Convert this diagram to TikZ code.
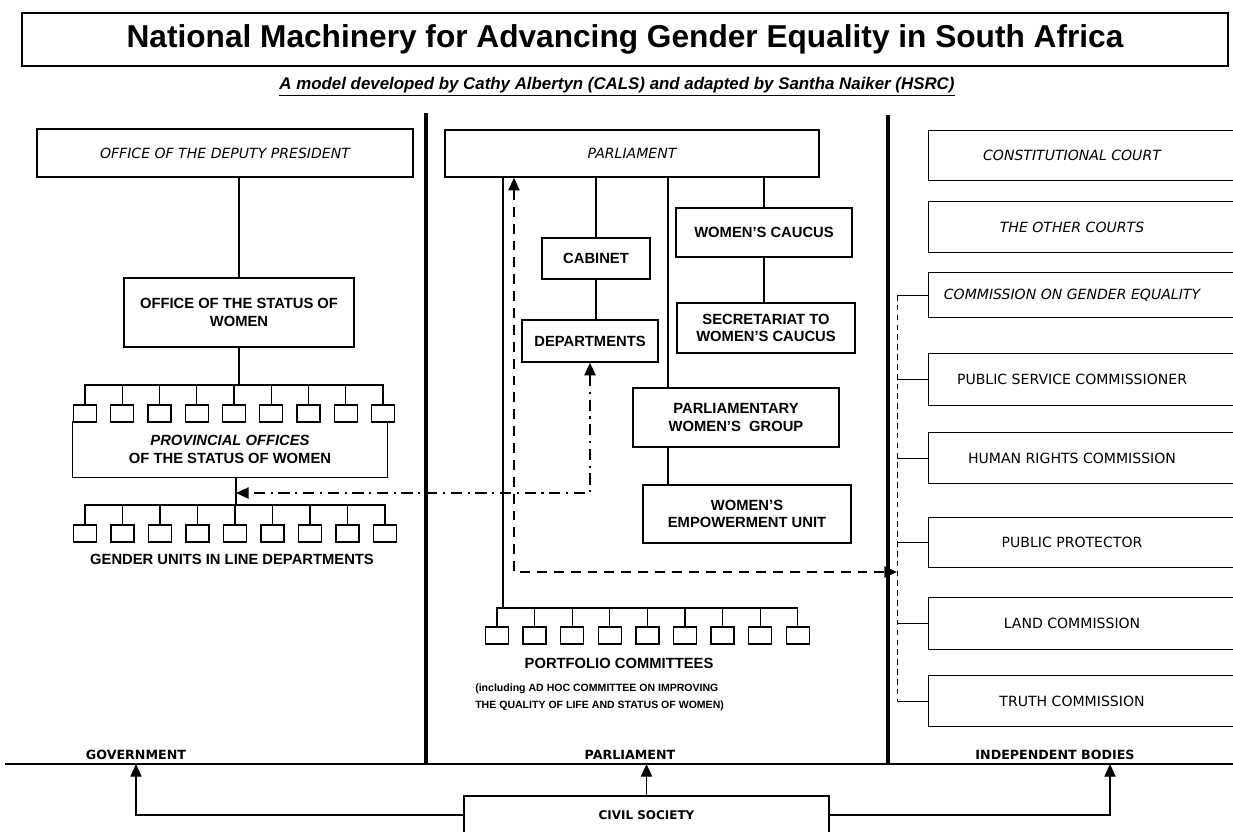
\documentclass[tikz,border=0pt]{standalone}
\usepackage{fontspec}
\setmainfont{Liberation Sans}
\newfontfamily\tahoma{DejaVu Sans}
\usepackage{tikz}
\usetikzlibrary{positioning, arrows.meta}
\tikzset{
  orgbox/.style={
    rectangle, draw=black, line width=1pt,
    inner sep=2pt, align=center,
    font=\fontsize{10.5}{12.5}\selectfont\bfseries
  },
  tbox/.style={orgbox, font=\tahoma\fontsize{10}{12}\selectfont},
  tibox/.style={orgbox, font=\tahoma\itshape\fontsize{10}{12}\selectfont},
  ibody/.style={tbox, draw=none, minimum width=7.15cm},
  unitbox/.style={
    rectangle, draw=black, line width=1pt,
    minimum width=0.575cm, minimum height=0.425cm, inner sep=0pt
  },
  link/.style={black, line width=0.9pt},
  thinlink/.style={black, line width=0.6pt},
  divider/.style={black, line width=2.6pt},
  tip/.style={-{Triangle[length=9pt, width=8pt]}},
  dasharrow/.style={
    {Triangle[length=9pt, width=8pt]}-{Triangle[length=9pt, width=8pt]},
    black, line width=1.1pt, dash pattern=on 7pt off 5pt
  },
  dotarrow/.style={
    {Triangle[length=9pt, width=8pt]}-{Triangle[length=9pt, width=8pt]},
    black, line width=1.1pt, dash pattern=on 8pt off 4pt on 1.5pt off 4pt
  },
  feed/.style={black, line width=0.6pt, dash pattern=on 4pt off 3pt},
  footlabel/.style={font=\tahoma\bfseries\fontsize{9}{10}\selectfont, inner sep=1pt}
}

\begin{document}
\begin{tikzpicture}[x=0.025cm, y=-0.025cm]
  \useasboundingbox (0,0) rectangle (1233,831);
  \clip (0,0) rectangle (1233,831);

  \node[draw, line width=1pt, minimum width=30.15cm, minimum height=1.325cm, font=\fontsize{22.5}{26}\selectfont\bfseries] (title) at (625,39.5) {National Machinery for Advancing Gender Equality in South Africa\hspace{0.5cm}};
  \node[font=\fontsize{12}{14}\selectfont\bfseries\itshape] (subtitle) at (617,87) {\underline{A model developed by Cathy Albertyn (CALS) and adapted by Santha Naiker (HSRC)}};

  % government
  \node[tibox, minimum width=9.4cm, minimum height=1.2cm] (deputy) at (225,153) {OFFICE OF THE DEPUTY PRESIDENT};
  \node[orgbox, minimum width=5.75cm, minimum height=1.725cm] (osw) at (239,312.5) {OFFICE OF THE STATUS OF\\WOMEN};
  \node[orgbox, draw=none, minimum width=7.85cm, minimum height=1.375cm] (poffice) at (230,449.5) {\textit{PROVINCIAL OFFICES}\\OF THE STATUS OF WOMEN};
  \draw[link] (poffice.north west) |- (poffice.south east) -- (poffice.north east);
  \draw[link] (osw.north) -- (osw.north |- deputy.south);

  \coordinate (pbus) at (239,385);
  \draw[link] (osw.south) -- (pbus);
  \foreach \i in {0,...,8} {
    \node[unitbox] (pu\i) at (85+37.25*\i,413.5) {};
    \draw[link] (pu\i.north) -- (pu\i.north |- pbus) -- (pbus);
  }

  \coordinate (gbus) at (236,505);
  \coordinate (govlink) at (236,493);
  \draw[link] (gbus |- poffice.south) -- (gbus);
  \foreach \i in {0,...,8} {
    \node[unitbox] (gu\i) at (85+37.5*\i,533.5) {};
    \draw[link] (gu\i.north) -- (gu\i.north |- gbus) -- (gbus);
  }
  \node[font=\fontsize{10.5}{12}\selectfont\bfseries] (gulabel) at (232,559) {GENDER UNITS IN LINE DEPARTMENTS};

  % parliament
  \node[tibox, minimum width=9.35cm, minimum height=1.175cm] (parl) at (632,153.5) {PARLIAMENT};
  \node[orgbox, minimum width=2.7cm, minimum height=1.025cm] (cabinet) at (596,258.5) {CABINET};
  \node[orgbox, minimum width=3.4cm, minimum height=1.05cm] (depts) at (590,341) {DEPARTMENTS};
  \node[orgbox, minimum width=4.4cm, minimum height=1.225cm] (caucus) at (764,232.5) {WOMEN'S CAUCUS};
  \node[orgbox, minimum width=4.45cm, minimum height=1.25cm] (secr) at (766,328) {SECRETARIAT TO\\WOMEN'S CAUCUS};
  \node[orgbox, minimum width=5.15cm, minimum height=1.475cm] (pwg) at (736,417.5) {PARLIAMENTARY\\WOMEN'S\ \ GROUP};
  \node[orgbox, minimum width=5.2cm, minimum height=1.45cm] (weu) at (747,514) {WOMEN'S\\EMPOWERMENT UNIT};

  \draw[link] (cabinet.north) -- (cabinet.north |- parl.south);
  \draw[link] (cabinet.south) -- (cabinet.south |- depts.north);
  \draw[link] (caucus.north) -- (caucus.north |- parl.south);
  \draw[link] (caucus.south) -- (caucus.south |- secr.north);
  \coordinate (pwgtap) at (668,388);
  \draw[link] (pwgtap) -- (pwgtap |- parl.south);
  \draw[link] (pwgtap |- pwg.south) -- (pwgtap |- weu.north);

  \coordinate (cbus) at (503,608);
  \draw[link] (cbus |- parl.south) -- (cbus);
  \foreach \i in {0,...,8} {
    \node[unitbox] (pc\i) at (497+37.6*\i,635.5) {};
    \draw[link] (pc\i.north) -- (pc\i.north |- cbus) -- (cbus);
  }
  \node[font=\fontsize{10.5}{12}\selectfont\bfseries] (pclabel) at (619,663) {PORTFOLIO COMMITTEES};
  \node[anchor=west, align=left, inner sep=0pt, font=\fontsize{7.5}{12}\selectfont\bfseries] (adhoc) at (475,697.5) {(including AD HOC COMMITTEE ON IMPROVING\\THE QUALITY OF LIFE AND STATUS OF WOMEN)};

  % independent bodies
  \node[ibody, font=\tahoma\itshape\fontsize{10}{12}\selectfont, minimum height=1.225cm] (cc) at (1072,155.5) {CONSTITUTIONAL COURT};
  \node[ibody, font=\tahoma\itshape\fontsize{10}{12}\selectfont, minimum height=1.25cm] (oc) at (1072,227) {THE OTHER COURTS};
  \node[ibody, font=\tahoma\itshape\fontsize{10}{12}\selectfont, minimum height=1.1cm] (cge) at (1072,295) {COMMISSION ON GENDER EQUALITY};
  \node[ibody, minimum height=1.275cm] (psc) at (1072,379.5) {PUBLIC SERVICE COMMISSIONER};
  \node[ibody, minimum height=1.25cm] (hrc) at (1072,458) {HUMAN RIGHTS COMMISSION};
  \node[ibody, minimum height=1.225cm] (pp) at (1072,542.5) {PUBLIC PROTECTOR};
  \node[ibody, minimum height=1.275cm] (lc) at (1072,623.5) {LAND COMMISSION};
  \node[ibody, minimum height=1.25cm] (tc) at (1072,701) {TRUTH COMMISSION};
  \foreach \b in {cc,oc,cge,psc,hrc,pp,lc,tc}
    \draw[link] (\b.north west) rectangle ([xshift=1cm]\b.south east);

  \coordinate (ibtap) at (897,572);
  \draw[feed] (cge.west -| ibtap) -- (tc.west -| ibtap);
  \foreach \b in {cge,psc,hrc,pp,lc,tc}
    \draw[thinlink] (\b.west -| ibtap) -- (\b.west);

  % links across the columns
  \coordinate (plink) at (514,572);
  \draw[dasharrow] (plink |- parl.south) -- (plink) -- (ibtap);
  \draw[dotarrow] (depts.south) |- (govlink);

  % dividers and base line
  \coordinate (baseW) at (5,764);
  \coordinate (baseE) at (1233,764);
  \draw[divider] (426,113) -- (426,764);
  \draw[divider] (888,115) -- (888,764);
  \draw[link, line width=1.2pt] (baseW) -- (baseE);

  \node[footlabel] (govlabel) at (136,755) {GOVERNMENT};
  \node[footlabel] (parllabel) at (630,755) {PARLIAMENT};
  \node[footlabel] (indlabel) at (1055,755) {INDEPENDENT BODIES};

  % civil society
  \node[orgbox, font=\tahoma\bfseries\fontsize{8.5}{10}\selectfont, minimum width=9.125cm, minimum height=0.95cm] (civil) at (646.5,815) {CIVIL SOCIETY};
  \coordinate (indin) at (1110,764);
  \draw[link, tip] (civil.west) -| (govlabel |- baseW);
  \draw[link, tip] (civil.north) -- (civil.north |- baseW);
  \draw[link, tip] (civil.east) -| (indin);
\end{tikzpicture}
\end{document}
